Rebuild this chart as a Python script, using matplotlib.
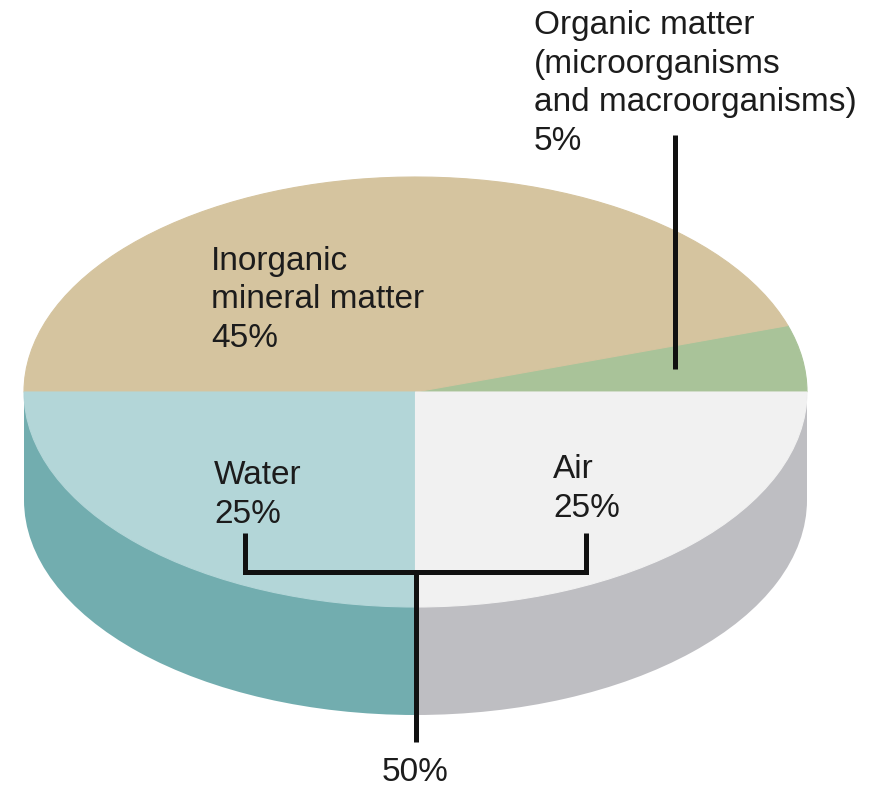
import numpy as np
import matplotlib.pyplot as plt
from matplotlib.patches import Rectangle

plt.rcParams['font.family'] = ['Liberation Sans', 'DejaVu Sans']

# soil composition, percent of volume (counter-clockwise from 3 o'clock)
components = ['Organic matter', 'Inorganic mineral matter', 'Water', 'Air']
shares = [5, 45, 25, 25]
top_colors = ['#A9C399', '#D5C49F', '#B3D6D8', '#F1F1F1']
side_colors = ['#A9C399', '#D5C49F', '#72ADAF', '#BEBEC2']

labels = [
    'Organic matter\n(microorganisms\nand macroorganisms)\n5%',
    'Inorganic\nmineral matter\n45%',
    'Water\n25%',
    'Air\n25%',
]
label_pos = [(534, 150), (211, 347), (214, 523), (553, 517)]  # px, last baseline
pore_label = '50%'

# geometry in pixels
W, H = 880, 788
CX, CY = 415.5, 392   # centre of the top face
RX, RY = 391.5, 215   # semi axes of the top face
DEPTH = 108           # thickness of the disc


def to_px(r, ang_deg):
    """point on the (squashed) pie -> pixel coords"""
    a = np.deg2rad(ang_deg)
    return CX + RX * r * np.cos(a), CY - RY * r * np.sin(a)


fig = plt.figure(figsize=(W / 100, H / 100), dpi=100)
fig.patch.set_facecolor('white')

# pie axes: 1 data unit = RX px horizontally, RY px vertically
ax = fig.add_axes([0, 0, 1, 1])
d = DEPTH / RY

# side of the disc: bottom pie shifted down + band between the two faces
bottom, _ = ax.pie(shares, colors=side_colors, startangle=0, counterclock=True,
                   radius=1, center=(0, -d), wedgeprops=dict(linewidth=0))
ax.add_patch(Rectangle((-1, -d), 1, d, facecolor=side_colors[2], lw=0, zorder=1))
ax.add_patch(Rectangle((0, -d), 1, d, facecolor=side_colors[3], lw=0, zorder=1))

top, _ = ax.pie(shares, colors=top_colors, startangle=0, counterclock=True,
                radius=1, center=(0, 0), wedgeprops=dict(linewidth=0.8))
for w in bottom:
    w.set_zorder(1)
for w in top:
    w.set_zorder(3)
    w.set_edgecolor(w.get_facecolor())

ax.set_aspect('auto')
ax.set_xlim((0 - CX) / RX, (W - CX) / RX)
ax.set_ylim((CY - H) / RY, CY / RY)
ax.axis('off')

# overlay in pixel coords for labels and leader lines
ov = fig.add_axes([0, 0, 1, 1], facecolor='none')
ov.set_xlim(0, W)
ov.set_ylim(H, 0)
ov.axis('off')

for txt, (x, y) in zip(labels, label_pos):
    ov.text(x, y, txt, fontsize=24, color='#1c1c1c', ha='left', va='baseline',
            linespacing=1.32)

# mid angles of each slice
edges = np.cumsum([0] + shares) / 100 * 360
mids = (edges[:-1] + edges[1:]) / 2

line_kw = dict(color='#111111', lw=3.6, solid_capstyle='butt',
               solid_joinstyle='miter', zorder=5)

# organic matter leader
ox, oy = to_px(0.67, mids[0])
ov.plot([ox, ox], [135, oy], **line_kw)

# water + air bracket -> 50% pore space
wx, _ = to_px(0.615, mids[2])
axx, _ = to_px(0.615, mids[3])
by = 572
ov.plot([wx, wx, axx, axx], [533, by, by, 533], **line_kw)
mx = (wx + axx) / 2
ov.plot([mx, mx], [by, 742], **line_kw)
ov.text(mx, 781, pore_label, fontsize=24, color='#1c1c1c', ha='center',
        va='baseline')

fig.savefig('out.png', dpi=100, facecolor='white')
